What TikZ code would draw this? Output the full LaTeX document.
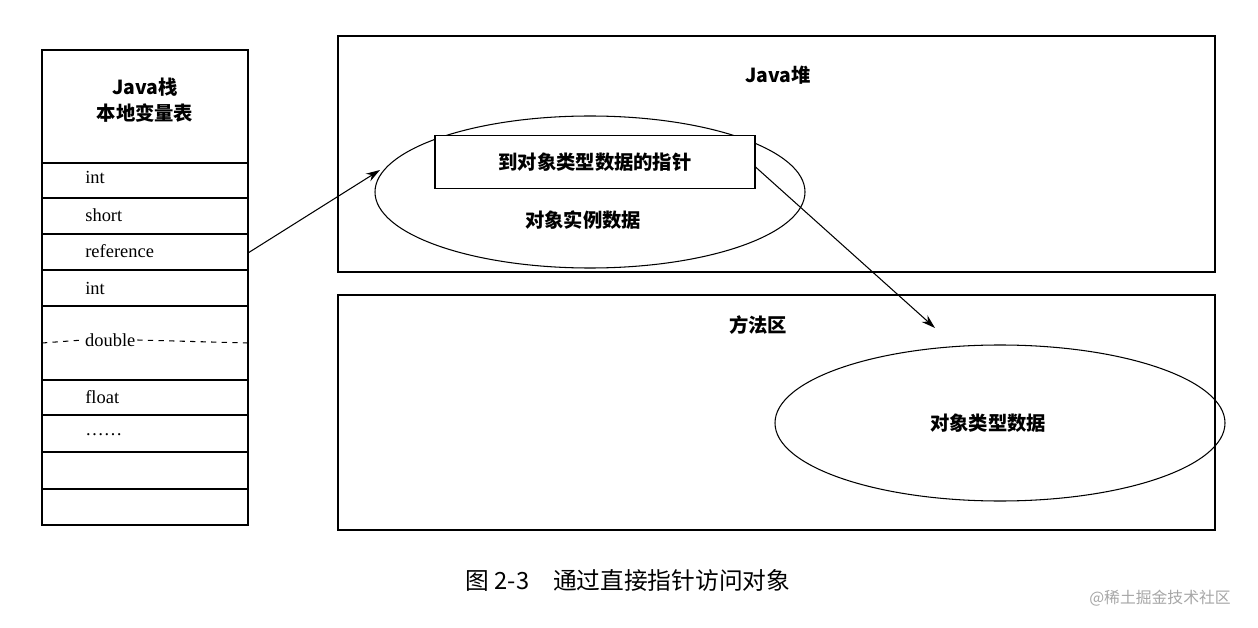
\documentclass[tikz,border=0pt]{standalone}
\usepackage{fontspec}
\setmainfont{Liberation Serif}
\newfontfamily\cjk{Noto Sans CJK SC}
\usetikzlibrary{arrows.meta}
\begin{document}
\begin{tikzpicture}[x=0.02cm,y=-0.02cm,
  lbl/.style={font=\fontsize{10.5pt}{12pt}\selectfont,anchor=west,inner sep=0},
  zh/.style={font=\cjk\fontsize{11pt}{13pt}\selectfont\bfseries,inner sep=0},
  box/.style={draw,line width=0.6pt},
  arr/.style={-{Stealth[length=8pt,width=5pt]},line width=0.6pt}]
\useasboundingbox (0,0) rectangle (1258,628);
% stack
\draw[box] (42,50) rectangle (248,525);
\foreach \y in {163,198,234,270,306,380,415,452,489} \draw[line width=0.6pt] (42,\y) -- (248,\y);
\node[align=center,font=\cjk\fontsize{11pt}{15pt}\selectfont\bfseries] (hdr) at (145,100) {Java栈\\本地变量表};
\node[lbl] (r1) at (85,177) {int};
\node[lbl] (r2) at (85,215) {short};
\node[lbl] (ref) at (85,251) {reference};
\node[lbl] (r4) at (85,288) {int};
\node[lbl,fill=white,inner xsep=1pt] (dbl) at (83,340) {double};
\draw[dashed,line width=0.6pt] (42,343) -- (dbl.west) (dbl.east) -- (248,343);
\node[lbl] (r6) at (85,397) {float};
\node[lbl] (r7) at (85,435) {……};
\coordinate (refE) at (248,253);
% heap
\draw[box] (338,36) rectangle (1215,272);
\node[zh] (heap) at (778,75) {Java堆};
\draw[line width=0.6pt] (590,192) ellipse [x radius=215,y radius=76];
\node[box,fill=white,zh,minimum width=320*0.02cm,minimum height=53*0.02cm] (ptr) at (595,162) {到对象类型数据的指针};
\node[zh] (inst) at (583,220) {对象实例数据};
\coordinate (ellL) at (380,170);
% method area
\draw[box] (338,295) rectangle (1215,530);
\node[zh] (meth) at (758,325) {方法区};
\draw[line width=0.6pt] (1000,423) ellipse [x radius=225,y radius=78];
\node[zh] (type) at (988,423) {对象类型数据};
\coordinate (tgt) at (935,328);
\draw[arr] (refE) -- (ellL);
\draw[arr] (ptr.east) ++(0,5) -- (tgt);
% caption
\node[font=\cjk\fontsize{13.5pt}{15pt}\selectfont] (cap) at (628,580) {图 2-3\quad 通过直接指针访问对象};
\node[font=\cjk\fontsize{9pt}{11pt}\selectfont,text=gray!70] (wm) at (1160,598) {@稀土掘金技术社区};
\end{tikzpicture}
\end{document}
